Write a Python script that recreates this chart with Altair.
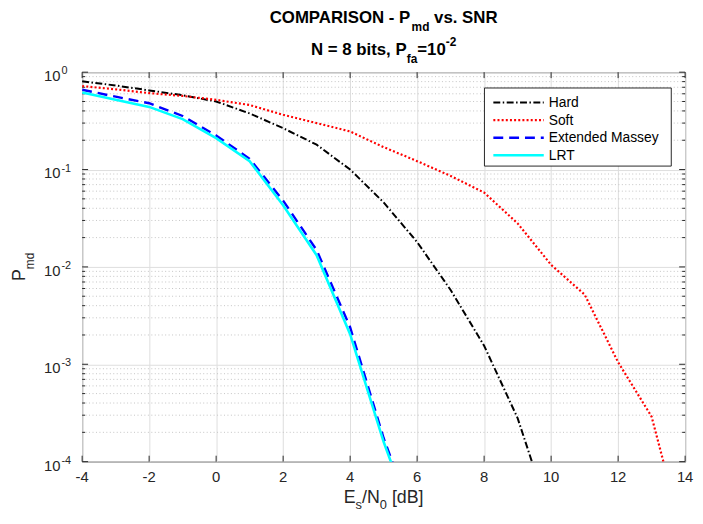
import altair as alt
import pandas as pd

# ---------------- data ----------------
names = ["Hard", "Soft", "Extended Massey", "LRT"]

snr_hard = [-4, -3, -2, -1, 0, 1, 2, 3, 4, 5, 6, 7, 8, 9, 10]
pmd_hard = [0.805, 0.73, 0.65, 0.58, 0.50, 0.377, 0.266, 0.18, 0.10, 0.046,
            0.018, 0.0058, 0.00155, 0.00028, 0.000025]

snr_soft = [-4, -3, -2, -1, 0, 1, 2, 3, 4, 5, 6, 7, 8, 9, 10, 11, 12, 13, 14]
pmd_soft = [0.72, 0.667, 0.61, 0.57, 0.52, 0.46, 0.365, 0.30, 0.246, 0.17,
            0.122, 0.086, 0.058, 0.028, 0.0105, 0.0052, 0.00105, 0.00029, 0.000014]

snr_em = [-4, -3, -2, -1, 0, 1, 2, 3, 4, 5, 6]
pmd_em = [0.66, 0.56, 0.48, 0.355, 0.224, 0.129, 0.048, 0.0149, 0.0024,
          0.000175, 0.00002]

snr_lrt = [-4, -3, -2, -1, 0, 1, 2, 3, 4, 5, 6]
pmd_lrt = [0.62, 0.52, 0.44, 0.33, 0.21, 0.122, 0.043, 0.0132, 0.00204,
           0.00016, 0.000018]

x_ticks = [-4, -2, 0, 2, 4, 6, 8, 10, 12, 14]
y_decades = [1, 0.1, 0.01, 0.001, 0.0001]
y_exponents = ["0", "-1", "-2", "-3", "-4"]
y_minor = [m * 10.0 ** e for e in [-4, -3, -2, -1] for m in range(2, 10)]

# ---------------- styles ----------------
FONT = "Liberation Sans"
W, H = 610, 394
AX = "#262626"
colors = ["#000000", "#ff0000", "#0000ff", "#00ffff"]
dashes = [[7, 2.5, 1.5, 2.5], [2, 2.2], [10, 6], None]
widths = [2.0, 2.2, 2.4, 2.6]

xscale = alt.Scale(domain=[-4, 14], nice=False, zero=False)
yscale = alt.Scale(type="log", domain=[0.0001, 1], nice=False)
xaxis = alt.Axis(values=x_ticks, grid=True, gridColor="#dedede", gridWidth=1,
                 labels=False, ticks=False, domain=False, title=None)
yaxis = alt.Axis(values=y_decades, grid=True, gridColor="#dedede", gridWidth=1,
                 labels=False, ticks=False, domain=False, title=None)
X = alt.X("x:Q", scale=xscale, axis=xaxis, title=None)
Y = alt.Y("p:Q", scale=yscale, axis=yaxis, title=None)

ONE = alt.Data(values=[{"k": 0}])

REG = {' ': 278, '-': 333, '/': 278, '[': 278, ']': 278, 'B': 667, 'E': 667,
       'N': 722, 'P': 667, 'a': 556, 'd': 556, 'f': 278, 'm': 833, 's': 500}
BOLD = {' ': 278, '-': 333, '.': 278, ',': 278, '=': 584, 'A': 722, 'C': 722,
        'I': 278, 'M': 833, 'N': 722, 'O': 778, 'P': 667, 'R': 722, 'S': 667,
        'a': 556, 'b': 611, 'd': 611, 'f': 333, 'i': 278, 'm': 889, 's': 556,
        't': 333, 'v': 556}


def tw(s, size, bold):
    tab = BOLD if bold else REG
    return sum(tab.get(c, 556) for c in s) * size / 1000.0


def txt(s, x, y, size, bold=False, align="left", angle=0, color="black"):
    kw = dict(text=s, fontSize=size, font=FONT,
              fontWeight="bold" if bold else "normal", align=align,
              baseline="alphabetic", color=color)
    if angle:
        kw["angle"] = angle
    return alt.Chart(ONE).mark_text(**kw).encode(x=alt.value(x), y=alt.value(y))


def rich_line(segs, center, base, color="black"):
    """segs: list of (text, size, bold, dy)"""
    total = sum(tw(t, s, b) for t, s, b, _ in segs)
    cur = center - total / 2.0
    out = []
    for t, s, b, dy in segs:
        stripped = t.lstrip(" ")
        cur += tw(t[:len(t) - len(stripped)], s, b)
        out.append(txt(stripped, cur, base + dy, s, bold=b, color=color))
        cur += tw(stripped, s, b)
    return out


def rich_vertical(segs, xbase, center):
    total = sum(tw(t, s, b) for t, s, b, _ in segs)
    cur = center + total / 2.0
    out = []
    for t, s, b, dx in segs:
        out.append(txt(t, xbase + dx, cur, s, bold=b, angle=270, color=AX))
        cur -= tw(t, s, b)
    return out


layers = []

# minor grid (dotted)
df_minor = pd.DataFrame({"p": y_minor})
layers.append(alt.Chart(df_minor).mark_rule(color="#c4c4c4", strokeWidth=1,
                                            strokeDash=[1, 2.5])
              .encode(y=Y, x=alt.value(0), x2=alt.value(W)))

# inward ticks
df_xt = pd.DataFrame({"x": x_ticks, "lab": [str(v) for v in x_ticks]})
df_yt = pd.DataFrame({"p": y_decades, "e": y_exponents})
layers.append(alt.Chart(df_xt).mark_rule(color=AX, strokeWidth=1)
              .encode(x=X, y=alt.value(H), y2=alt.value(H - 6)))
layers.append(alt.Chart(df_xt).mark_rule(color=AX, strokeWidth=1)
              .encode(x=X, y=alt.value(0), y2=alt.value(6)))
layers.append(alt.Chart(df_yt).mark_rule(color=AX, strokeWidth=1)
              .encode(y=Y, x=alt.value(0), x2=alt.value(6)))
layers.append(alt.Chart(df_yt).mark_rule(color=AX, strokeWidth=1)
              .encode(y=Y, x=alt.value(W), x2=alt.value(W - 6)))
layers.append(alt.Chart(df_minor).mark_rule(color=AX, strokeWidth=1)
              .encode(y=Y, x=alt.value(0), x2=alt.value(3)))
layers.append(alt.Chart(df_minor).mark_rule(color=AX, strokeWidth=1)
              .encode(y=Y, x=alt.value(W), x2=alt.value(W - 3)))

# series
series = [(snr_hard, pmd_hard), (snr_soft, pmd_soft), (snr_em, pmd_em), (snr_lrt, pmd_lrt)]
for (xs, ps), col, dash, w in zip(series, colors, dashes, widths):
    kw = dict(color=col, strokeWidth=w, clip=True)
    if dash:
        kw["strokeDash"] = dash
    df = pd.DataFrame({"x": xs, "p": ps})
    layers.append(alt.Chart(df).mark_line(**kw).encode(x=X, y=Y))

# tick labels
layers.append(alt.Chart(df_xt).mark_text(font=FONT, fontSize=15, color=AX,
                                         align="center", baseline="alphabetic")
              .encode(x=X, y=alt.value(H + 21), text="lab:N"))
layers.append(alt.Chart(df_yt).mark_text(text="10", font=FONT, fontSize=15, color=AX,
                                         align="right", baseline="alphabetic", dy=9)
              .encode(y=Y, x=alt.value(-22)))
layers.append(alt.Chart(df_yt).mark_text(font=FONT, fontSize=11, color=AX,
                                         align="left", baseline="alphabetic", dy=2)
              .encode(y=Y, x=alt.value(-21), text="e:N"))

# legend
lx0, lx1, ly0, ly1 = 407, 596, 16, 95
layers.append(alt.Chart(ONE).mark_rect(fill="white", stroke=AX, strokeWidth=1)
              .encode(x=alt.value(lx0), x2=alt.value(lx1), y=alt.value(ly0), y2=alt.value(ly1)))
rows = [30.7, 48.5, 66.3, 84.1]
for name, col, dash, w, ry in zip(names, colors, dashes, widths, rows):
    kw = dict(color=col, strokeWidth=w)
    if dash:
        kw["strokeDash"] = dash
    layers.append(alt.Chart(ONE).mark_rule(**kw)
                  .encode(x=alt.value(416), x2=alt.value(467), y=alt.value(ry)))
    layers.append(alt.Chart(ONE).mark_text(text=name, font=FONT, fontSize=14,
                                           color="black", align="left", baseline="middle")
                  .encode(x=alt.value(472), y=alt.value(ry + 0.5)))

# titles
CX = W / 2.0
layers += rich_line([("COMPARISON - P", 17, True, 0), ("md", 12, True, 8),
                     (" vs. SNR", 17, True, 0)], CX, -49.5)
layers += rich_line([("N = 8 bits, P", 17, True, 0), ("fa", 12, True, 8),
                     ("=10", 17, True, 0), ("-2", 12, True, -9)], CX, -17)
layers += rich_line([("E", 18, False, 0), ("s", 13, False, 5.5), ("/N", 18, False, 0),
                     ("0", 13, False, 5.5), (" [dB]", 18, False, 0)], CX, H + 42, color=AX)
layers += rich_vertical([("P", 18, False, 0), ("md", 12, False, 9)], -58, H / 2.0)

chart = (alt.layer(*layers)
         .properties(width=W, height=H, autosize="none",
                     padding={"left": 75, "top": 62, "right": 10, "bottom": 47})
         .configure_view(stroke=AX, strokeWidth=1))

chart.save("out.html", embed_options={"renderer": "svg", "actions": False})
